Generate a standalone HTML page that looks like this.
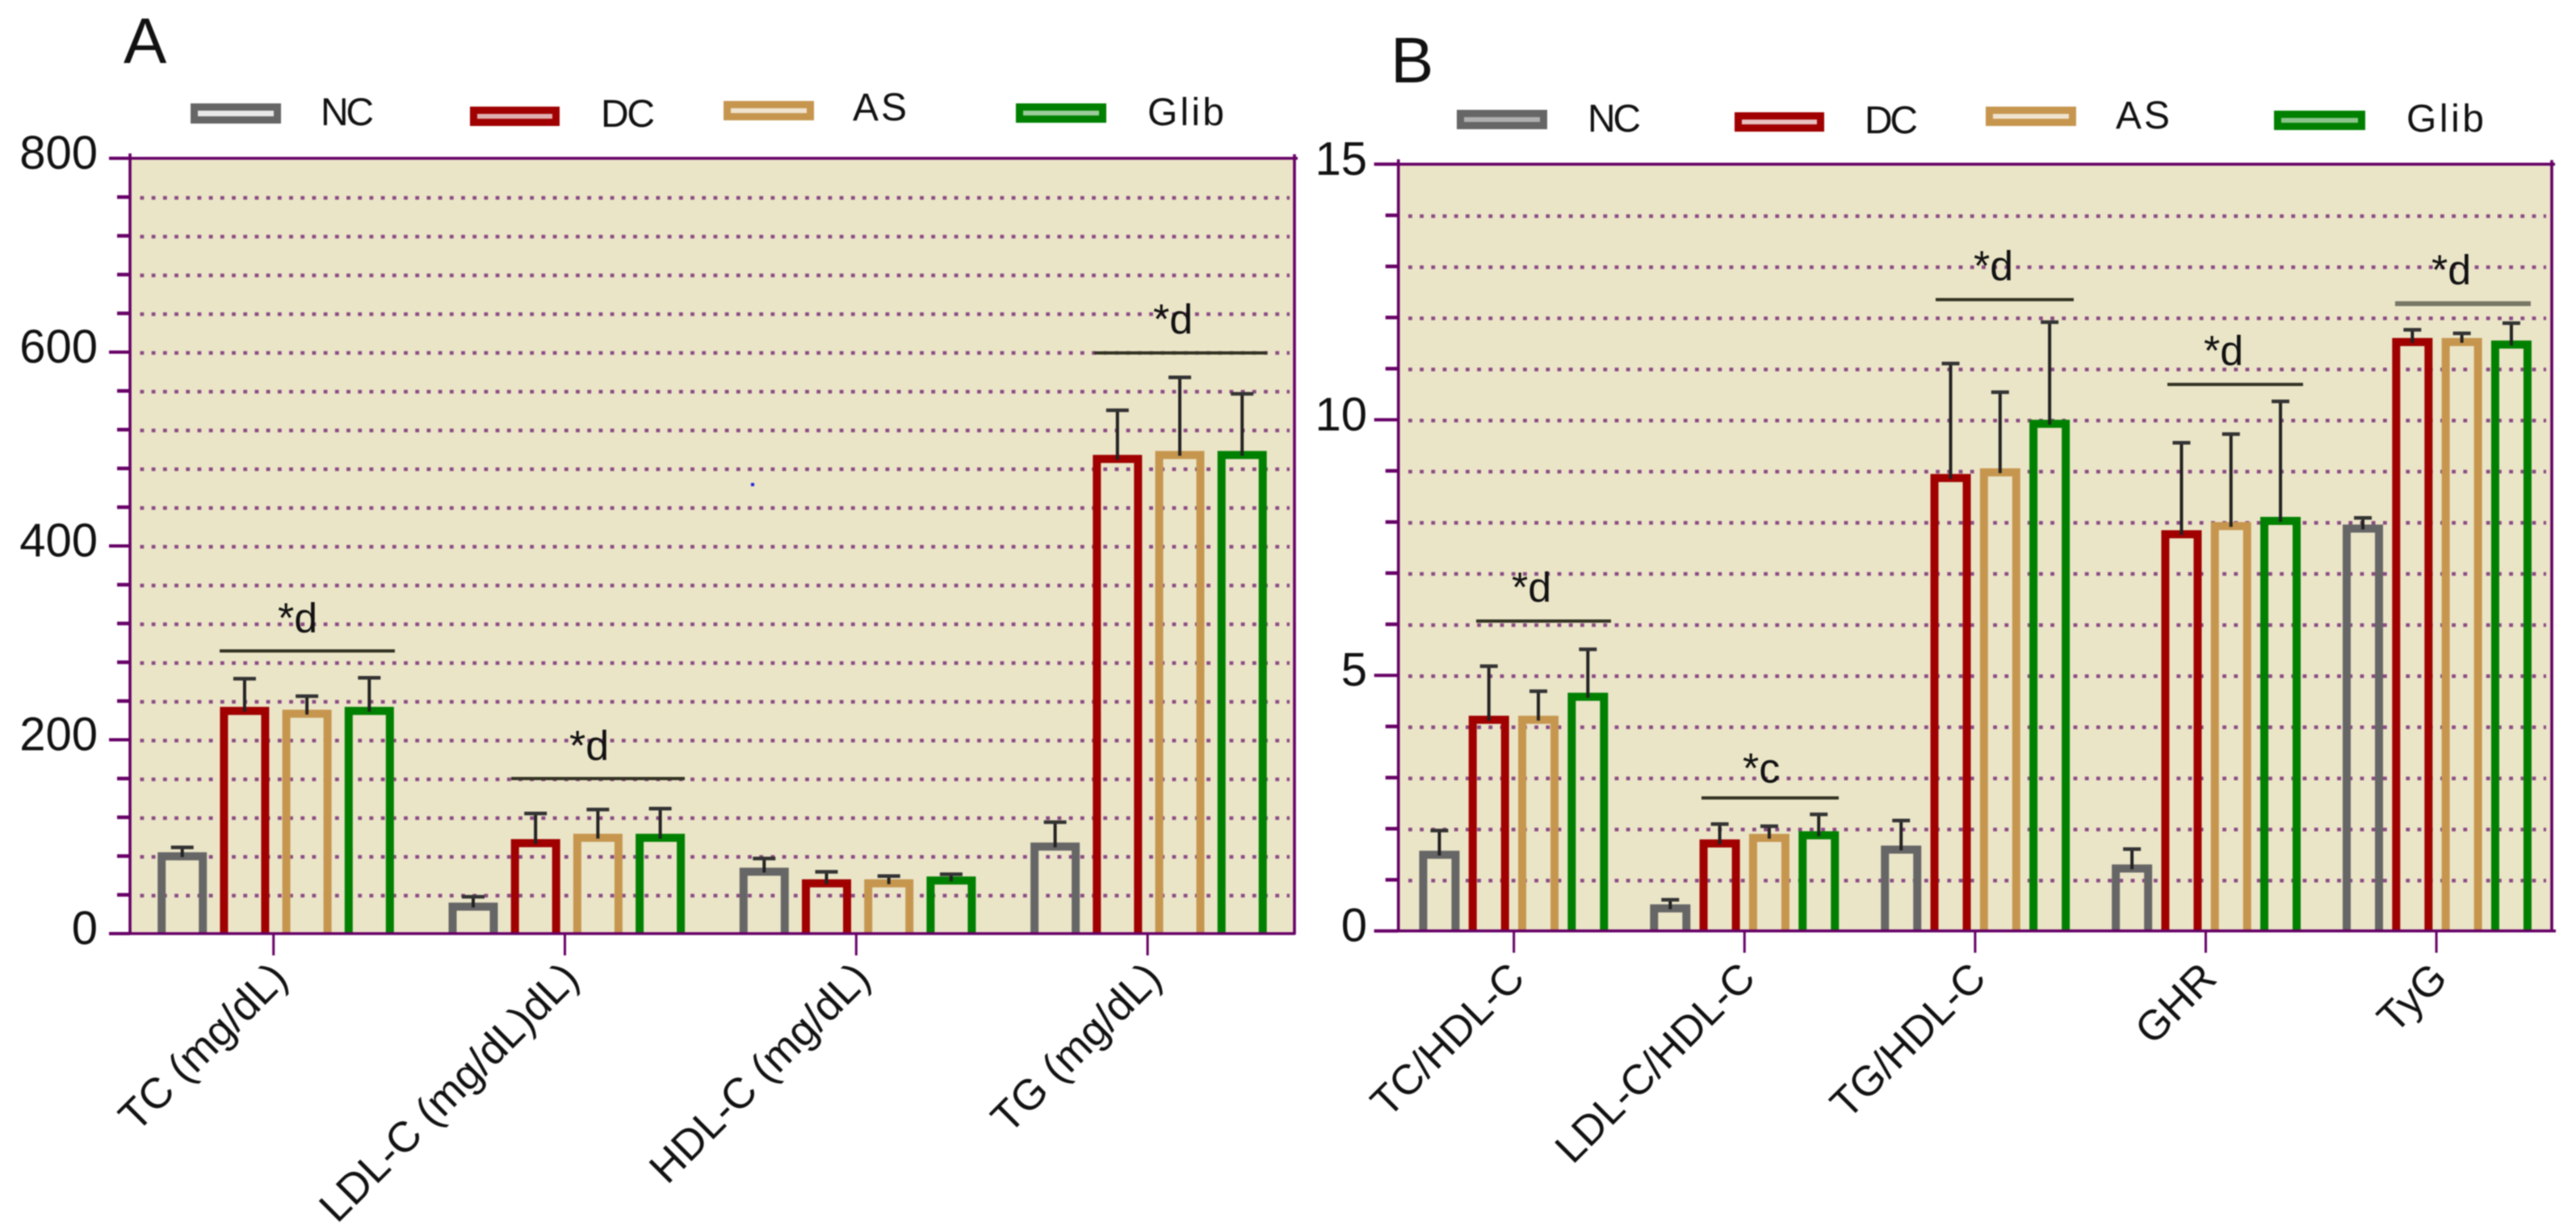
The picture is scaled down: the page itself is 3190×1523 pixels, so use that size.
<!DOCTYPE html>
<html lang="en">
<head>
<meta charset="utf-8">
<title>Lipid profile bar charts</title>
<style>
html,body{margin:0;padding:0;background:#fff;width:3190px;height:1523px;overflow:hidden}
svg{display:block;filter:blur(0.7px)}
text{font-family:"Liberation Sans",Arial,sans-serif;fill:#111}
</style>
</head>
<body>
<svg id="figure" xmlns="http://www.w3.org/2000/svg" width="3190" height="1523" viewBox="0 0 3190 1523">
  <text x="153" y="78" font-size="80">A</text>
  <text x="1722" y="102" font-size="80">B</text>

  <g>
    <rect x="240.5" y="132.5" width="103" height="16" fill="#e8e8e8" stroke="#666666" stroke-width="9"/>
    <text x="397" y="155" font-size="48" textLength="66">NC</text>
    <rect x="586.5" y="136.5" width="102" height="15" fill="#e0b0b0" stroke="#a00000" stroke-width="9"/>
    <text x="744" y="157" font-size="48" textLength="67">DC</text>
    <rect x="900.5" y="129.5" width="103" height="15" fill="#f0e4d0" stroke="#c6964f" stroke-width="9"/>
    <text x="1056" y="149" font-size="48" textLength="67">AS</text>
    <rect x="1262.5" y="132.5" width="103" height="15" fill="#9ccc9c" stroke="#008000" stroke-width="9"/>
    <text x="1421" y="155" font-size="48" textLength="95">Glib</text>
  </g>

  <g>
    <rect x="1808.5" y="140.5" width="103" height="15" fill="#b0b0b0" stroke="#666666" stroke-width="9"/>
    <text x="1966" y="163" font-size="48" textLength="66">NC</text>
    <rect x="2152.5" y="143.5" width="102" height="15" fill="#e8c0c0" stroke="#a00000" stroke-width="9"/>
    <text x="2309" y="165" font-size="48" textLength="66">DC</text>
    <rect x="2463.5" y="136.5" width="103" height="15" fill="#f0e4d0" stroke="#c6964f" stroke-width="9"/>
    <text x="2620" y="159" font-size="48" textLength="67">AS</text>
    <rect x="2820.5" y="141.5" width="104" height="15" fill="#8cc48c" stroke="#008000" stroke-width="9"/>
    <text x="2980" y="163" font-size="48" textLength="96">Glib</text>
  </g>

  <g id="panel-a"></g>
  <g id="panel-b"></g>

  <g stroke="#333322" stroke-width="4">
    <line x1="272" x2="489" y1="806" y2="806"/>
    <line x1="633" x2="848" y1="964" y2="964"/>
    <line x1="1355" x2="1569" y1="437" y2="437"/>
    <line x1="1828" x2="1995" y1="769" y2="769"/>
    <line x1="2107" x2="2277" y1="988" y2="988"/>
    <line x1="2397" x2="2568" y1="371" y2="371"/>
    <line x1="2684" x2="2852" y1="476" y2="476"/>
    <line x1="2966" x2="3134" y1="376" y2="376" stroke="#777766" stroke-width="6"/>
  </g>
  <g font-size="52">
    <text x="344" y="783">*d</text>
    <text x="705" y="941">*d</text>
    <text x="1428" y="413">*d</text>
    <text x="1872" y="745">*d</text>
    <text x="2158" y="969">*c</text>
    <text x="2444" y="347">*d</text>
    <text x="2729" y="452">*d</text>
    <text x="3011" y="352">*d</text>
  </g>
  <rect x="930" y="598" width="4" height="4" fill="#2222dd"/>
</svg>

<script>
/* ---------- data ---------- */
const seriesNames = ["NC", "DC", "AS", "Glib"];

const categoriesA = ["TC (mg/dL)", "LDL-C (mg/dL)dL)", "HDL-C (mg/dL)", "TG (mg/dL)"];
const yTickLabelsA = [0, 200, 400, 600, 800];
const meansNC_A = [84, 32, 68, 94];
const meansDC_A = [234, 97.5, 56, 494];
const meansAS_A = [231, 103, 56, 498];
const meansGlib_A = [234, 103, 59, 498];
const capsNC_A = [89, 38, 77.5, 115];
const capsDC_A = [263, 124, 63.7, 540];
const capsAS_A = [245, 128, 59.4, 574];
const capsGlib_A = [264, 129, 61.3, 557];

const categoriesB = ["TC/HDL-C", "LDL-C/HDL-C", "TG/HDL-C", "GHR", "TyG"];
const yTickLabelsB = [0, 5, 10, 15];
const meansNC_B = [1.57, 0.52, 1.67, 1.3, 7.95];
const meansDC_B = [4.21, 1.79, 8.94, 7.84, 11.6];
const meansAS_B = [4.21, 1.9, 9.05, 8.0, 11.6];
const meansGlib_B = [4.66, 1.95, 10.0, 8.1, 11.55];
const capsNC_B = [1.965, 0.61, 2.16, 1.6, 8.08];
const capsDC_B = [5.18, 2.09, 11.1, 9.55, 11.76];
const capsAS_B = [4.69, 2.05, 10.54, 9.72, 11.69];
const capsGlib_B = [5.51, 2.28, 11.91, 10.36, 11.89];

/* ---------- styling / layout ---------- */
const NS = "http://www.w3.org/2000/svg";
const AXIS = "#660066";
const seriesColors = ["#666666", "#a00000", "#c6964f", "#008000"];

function svgEl(tag, parent, attrs) {
  const el = document.createElementNS(NS, tag);
  for (const k in attrs) el.setAttribute(k, attrs[k]);
  parent.appendChild(el);
  return el;
}

function drawPanel(root, id, geo, categories, majorLabels, means, caps) {
  const yScale = v => geo.base - (v / geo.yMax) * (geo.base - geo.top);
  const groupX = i => geo.group0 + i * geo.groupStep;
  const tickX = i => geo.tick0 + i * geo.tickStep;
  const barX = (i, s) => groupX(i) + (s - 1.5) * geo.pitch;

  const bg = svgEl("rect", root, {x: geo.left, y: geo.top, width: geo.right - geo.left, height: geo.base - geo.top, fill: "#ebe5c8"});
  
  

  /* dotted gridlines + minor ticks */
  for (let v = geo.minorStep; v < geo.yMax; v += geo.minorStep) {
    const y = yScale(v);
    const grid = svgEl("line", root, {x1: geo.gridStart, x2: geo.gridEnd, y1: y + 1, y2: y + 1, stroke: "#8a4a82", "stroke-width": 4.5, "stroke-dasharray": "4.8 9.4"});
    
    
    if (!majorLabels.includes(v)) {
      const t = svgEl("line", root, {x1: geo.left - geo.minorLen, x2: geo.left, y1: y, y2: y, stroke: AXIS, "stroke-width": 4.5});
      
      
    }
  }

  /* bars and error bars */
  means.forEach((values, s) => {
    values.forEach((v, i) => {
      const cx = barX(i, s);
      const half = geo.barW / 2 - 5;
      const yTop = yScale(v) + 5;
      const bar = svgEl("path", root, {d: `M${cx - half} ${geo.base}V${yTop}H${cx + half}V${geo.base}`, fill: "none", stroke: seriesColors[s], "stroke-width": 10});
      
      
      const yCap = yScale(caps[s][i]);
      const stem = svgEl("line", root, {x1: cx, x2: cx, y1: yTop + 1, y2: yCap, stroke: "#222", "stroke-width": 4});
      
      
      const cap = svgEl("line", root, {x1: cx - geo.capW / 2, x2: cx + geo.capW / 2, y1: yCap, y2: yCap, stroke: "#333", "stroke-width": 4.5});
      
      
    });
  });

  /* frame */
  const frame = [
    [geo.left, geo.top - 6, geo.left, geo.base + 1],
    [geo.right, geo.top - 5, geo.right, geo.base + 1],
    [geo.left - geo.majorLen, geo.top, geo.right + 4, geo.top],
    [geo.left - geo.majorLen, geo.base, geo.right + geo.baseExt, geo.base]
  ];
  frame.forEach(f => {
    const l = svgEl("line", root, {x1: f[0], y1: f[1], x2: f[2], y2: f[3], stroke: AXIS, "stroke-width": 3.6});
    
    
  });

  /* y axis major ticks and labels */
  majorLabels.forEach(v => {
    const y = yScale(v);
    const t = svgEl("line", root, {x1: geo.left - geo.majorLen, x2: geo.left, y1: y, y2: y, stroke: AXIS, "stroke-width": 4});
    
    
    const lab = svgEl("text", root, {x: geo.labelX, y: y + 13, "font-size": 58, "text-anchor": "end"});
    
    
    lab.textContent = String(v);
  });

  /* x axis ticks and rotated labels */
  categories.forEach((c, i) => {
    const x = tickX(i);
    const t = svgEl("line", root, {x1: x, x2: x, y1: geo.base, y2: geo.base + 27, stroke: AXIS, "stroke-width": 3});
    
    
    const lx = x + geo.xLabelDx;
    const ly = geo.xLabelY;
    const lab = svgEl("text", root, {x: lx, y: ly, "font-size": geo.xFont, "text-anchor": "end", transform: `rotate(-45 ${lx} ${ly})`});
    
    
    lab.textContent = c;
  });
}

const geoA = {left: 161, right: 1603, top: 196, base: 1156, yMax: 800, minorStep: 40,
  group0: 341.5, groupStep: 360.3, pitch: 77.2, barW: 61, capW: 28,
  tick0: 338.7, tickStep: 360.8, majorLen: 26, minorLen: 16, baseExt: 1,
  gridStart: 173.5, gridEnd: 1597, labelX: 121, xLabelDx: 20, xLabelY: 1214, xFont: 53};
const geoB = {left: 1731.7, right: 3160, top: 203.3, base: 1152.7, yMax: 15, minorStep: 1,
  group0: 1874.4, groupStep: 285.9, pitch: 61.3, barW: 50, capW: 22,
  tick0: 1874.7, tickStep: 285.6, majorLen: 30, minorLen: 16, baseExt: 5,
  gridStart: 1744, gridEnd: 3153, labelX: 1693, xLabelDx: 16, xLabelY: 1214, xFont: 52};

drawPanel(document.getElementById("panel-a"), "panel-a", geoA, categoriesA, yTickLabelsA,
  [meansNC_A, meansDC_A, meansAS_A, meansGlib_A], [capsNC_A, capsDC_A, capsAS_A, capsGlib_A]);
drawPanel(document.getElementById("panel-b"), "panel-b", geoB, categoriesB, yTickLabelsB,
  [meansNC_B, meansDC_B, meansAS_B, meansGlib_B], [capsNC_B, capsDC_B, capsAS_B, capsGlib_B]);
</script>
</body>
</html>
